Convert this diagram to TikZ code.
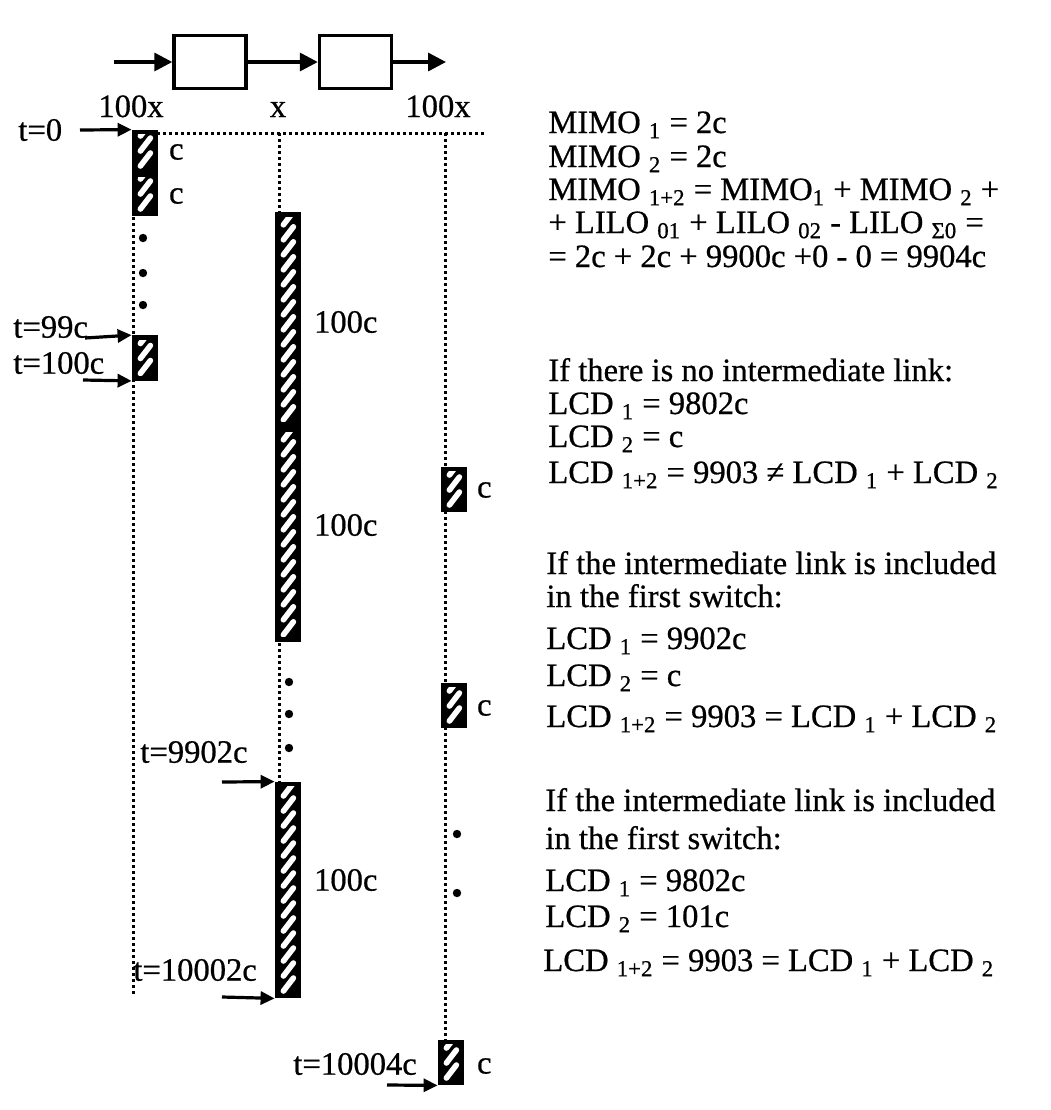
\documentclass[tikz,border=0pt]{standalone}
\usepackage{fontspec}
\setmainfont{Liberation Serif}[FakeBold=0.6]
\usetikzlibrary{arrows.meta,positioning}

\begin{document}
\begin{tikzpicture}[
  x=0.5pt, y=-0.5pt,
  every node/.style={font=\fontsize{16.3}{19}\selectfont},
  blk/.style={draw,line width=1.7pt,minimum width=36pt,minimum height=26.5pt,inner sep=0pt},
  cell/.style={draw,line width=2.4pt,fill=black,inner sep=0pt,
               minimum width=11pt,minimum height=#1,
               path picture={\foreach \k in {0,...,16}
                 \draw[white,line width=2.8pt,line cap=round]
                   ([xshift=3.2pt,yshift=\k*7.5pt+2.5pt]path picture bounding box.south west)
                   -- ++(5pt,6.5pt);}},
  arr/.style={-{Triangle[length=9pt,width=9pt]},line width=1.7pt},
  tarr/.style={-{Triangle[length=7pt,width=6.5pt]},line width=1.6pt},
  vline/.style={line width=1.5pt,dash pattern=on 1.4pt off 1.6pt},
  lbl/.style={anchor=base west,inner sep=0pt},
]
  \useasboundingbox (0,0) rectangle (1051,1110);

  % the two switches
  \node[blk] (sw1) at (210,62) {};
  \node[blk] (sw2) at (355.5,62) {};
  \coordinate (in)  at (114,62);
  \coordinate (out) at (446,62);
  \draw[arr] (in)  -- (sw1);
  \draw[arr] (sw1) -- (sw2);
  \draw[arr] (sw2) -- (out);

  % link speeds
  \node[anchor=base] (lspd) at (131,117) {100x};
  \node[anchor=base] (mspd) at (278,117) {x};
  \node[anchor=base] (rspd) at (438,117) {100x};

  % time axes
  \coordinate (h0) at (157,133);  \coordinate (h1) at (485,133);
  \coordinate (L0) at (133,133);  \coordinate (L1) at (133,995);
  \coordinate (M0) at (279,133);  \coordinate (M1) at (279,782);
  \coordinate (R0) at (445,133);  \coordinate (R1) at (445,1040);
  \draw[vline] (h0) -- (h1);
  \draw[vline] (L0) -- (L1);
  \draw[vline] (M0) -- (M1);
  \draw[vline] (R0) -- (R1);

  % first link
  \node[cell=19.5pt] (a1) at (145,151.5) {};
  \node[cell=19.5pt] (a2) at (145,194.5) {};
  \node[cell=20.5pt] (a3) at (145,358) {};
  \node[anchor=west] (ca1) at (162,152) {c};
  \node[anchor=west] (ca2) at (162,196) {c};

  % intermediate link
  \node[cell=105.3pt] (b1) at (288,319.5) {};
  \node[cell=105.3pt] (b2) at (288,534.5) {};
  \node[cell=106pt]   (b3) at (288,890) {};
  \node[anchor=west] (cb1) at (307,322) {100c};
  \node[anchor=west] (cb2) at (307,525) {100c};
  \node[anchor=west] (cb3) at (307,880) {100c};

  % last link
  \node[cell=20.5pt] (c1) at (454,489.5) {};
  \node[cell=20.5pt] (c2) at (454,705.5) {};
  \node[cell=20.5pt] (c3) at (451,1062.5) {};
  \node[anchor=west] (cc1) at (470,490) {c};
  \node[anchor=west] (cc2) at (470,708) {c};
  \node[anchor=west] (cc3) at (470,1066) {c};

  % gaps
  \foreach \p in {(143,238),(143,273),(143,305),(289,682),(289,714),(289,748),(457,834),(457,893)}
    \fill \p circle (2.1pt);

  % time marks
  \node[anchor=west,inner sep=0pt] (t0)     at (18,130)  {t=0};
  \node[anchor=west,inner sep=0pt] (t99)    at (13,327)  {t=99c};
  \node[anchor=west,inner sep=0pt] (t100)   at (13,363)  {t=100c};
  \node[anchor=west,inner sep=0pt] (t9902)  at (140,752) {t=9902c};
  \node[anchor=west,inner sep=0pt] (t10002) at (133,970) {t=10002c};
  \node[anchor=west,inner sep=0pt] (t10004) at (293,1064) {t=10004c};
  \coordinate (s0)     at (80,130);
  \coordinate (s99)    at (85,338);
  \coordinate (s100)   at (83,380);
  \coordinate (s9902)  at (222,782);
  \coordinate (s10002) at (222,997);
  \coordinate (s10004) at (387,1085);
  \draw[tarr] (s0)     -- (a1.north west);
  \draw[tarr] (s99)    -- (a3.north west);
  \draw[tarr] (s100)   -- (a3.south west);
  \draw[tarr] (s9902)  -- (b3.north west);
  \draw[tarr] (s10002) -- (b3.south west);
  \draw[tarr] (s10004) -- (c3.south west);

  % MIMO
  \node[lbl] (m1) at (548,133) {MIMO \textsubscript{1} = 2c};
  \node[lbl] (m2) at (548,167) {MIMO \textsubscript{2} = 2c};
  \node[lbl] (m3) at (548,200) {MIMO \textsubscript{1+2} = MIMO\textsubscript{1} + MIMO \textsubscript{2} +};
  \node[lbl] (m4) at (548,233) {+ LILO \textsubscript{01} + LILO \textsubscript{02} - LILO \textsubscript{Σ0} =};
  \node[lbl] (m5) at (548,267) {= 2c + 2c + 9900c +0 - 0 = 9904c};

  % no intermediate link
  \node[lbl] (n1) at (548,381) {If there is no intermediate link:};
  \node[lbl] (n2) at (548,414) {LCD \textsubscript{1} = 9802c};
  \node[lbl] (n3) at (548,447) {LCD \textsubscript{2} = c};
  \node[lbl] (n4) at (548,483) {LCD \textsubscript{1+2} = 9903 ≠ LCD \textsubscript{1} + LCD \textsubscript{2}};

  % included in the first switch
  \node[lbl] (p1) at (546,574) {If the intermediate link is included};
  \node[lbl] (p2) at (546,607) {in the first switch:};
  \node[lbl] (p3) at (546,649) {LCD \textsubscript{1} = 9902c};
  \node[lbl] (p4) at (546,686) {LCD \textsubscript{2} = c};
  \node[lbl] (p5) at (546,727) {LCD \textsubscript{1+2} = 9903 = LCD \textsubscript{1} + LCD \textsubscript{2}};

  % second case
  \node[lbl] (q1) at (545,811) {If the intermediate link is included};
  \node[lbl] (q2) at (545,849) {in the first switch:};
  \node[lbl] (q3) at (545,891) {LCD \textsubscript{1} = 9802c};
  \node[lbl] (q4) at (545,927) {LCD \textsubscript{2} = 101c};
  \node[lbl] (q5) at (543,971) {LCD \textsubscript{1+2} = 9903 = LCD \textsubscript{1} + LCD \textsubscript{2}};
\end{tikzpicture}
\end{document}
